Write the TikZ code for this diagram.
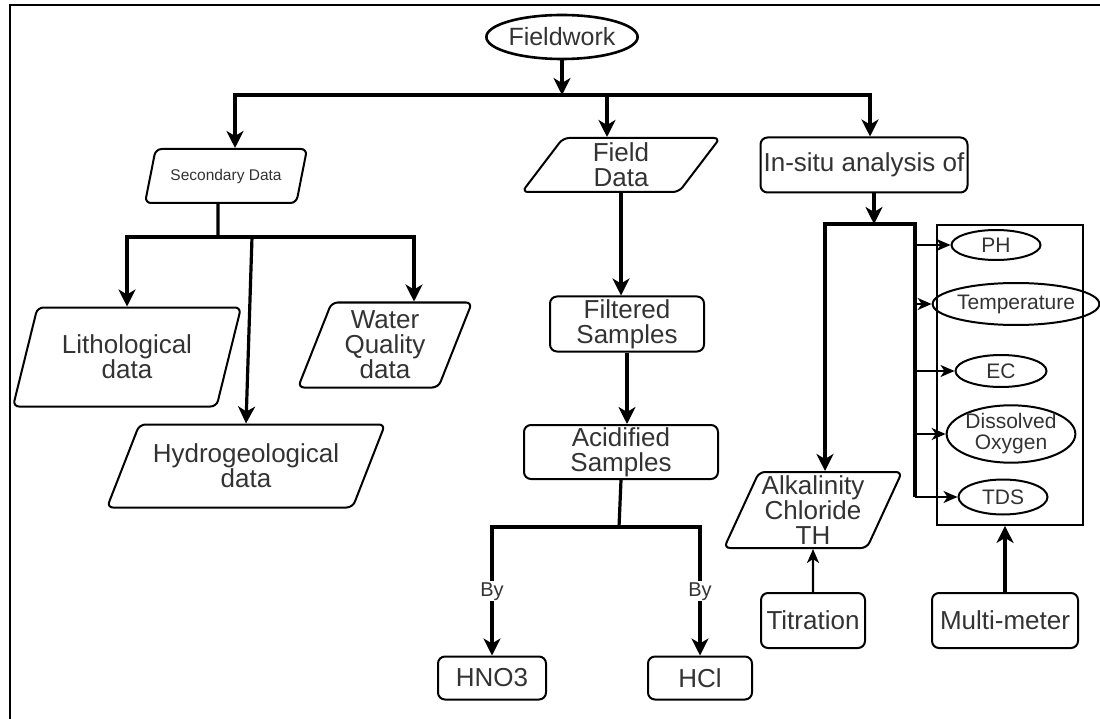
\documentclass[tikz,border=0pt]{standalone}
\usepackage{fontspec}
\setmainfont{Liberation Sans}
\usetikzlibrary{positioning,shapes.geometric,arrows.meta}

\begin{document}
\begin{tikzpicture}[x=1pt,y=-1pt,
    every node/.style={align=center,text=black!80,font=\fontsize{26}{25}\selectfont},
    box/.style={draw=black,rounded corners=7pt,line width=2pt,inner sep=0pt},
    data/.style={draw=black,trapezium,trapezium left angle=#1,trapezium right angle=180-#1,
        trapezium stretches body,rounded corners=6pt,line width=2pt,inner sep=0pt},
    oval/.style={draw=black,ellipse,line width=2pt,inner sep=0pt,font=\fontsize{21}{21}\selectfont},
    arr/.style={line width=3.2pt,-{Stealth[length=17pt,width=17pt,inset=5pt]}},
    link/.style={line width=3.2pt},
    thinarr/.style={line width=1.8pt,-{Stealth[length=14pt,width=12pt,inset=4pt]}},
    by/.style={fill=white,inner sep=1pt,font=\fontsize{20}{20}\selectfont}]
                \fill[white] (0,0) rectangle (1100,719);
                \useasboundingbox (0,0) rectangle (1100,719);
                \draw[line width=2pt] (10,719) -- (10,5) -- (1100,5);
                % top level
                \node[oval,line width=2.6pt,font=\fontsize{25}{25}\selectfont,minimum width=141pt,minimum height=44pt](1) at (562,37){Fieldwork};
                \node[data=53.5,font=\fontsize{15.5}{16}\selectfont,minimum width=162pt,minimum height=54pt](2) at (226,176){Secondary Data};
                \node[data=47,minimum width=198pt,minimum height=54pt](3) at (621,165){Field\\Data};
                \node[box,minimum width=207pt,minimum height=55pt](4) at (864,165){In-situ analysis of};
                % secondary data
                \node[data=61,minimum width=228pt,minimum height=99pt](5) at (127,357){Lithological\\data};
                \node[data=53.7,minimum width=278pt,minimum height=83pt](6) at (246,466){Hydrogeological\\data};
                \node[data=63.7,minimum width=174pt,minimum height=85pt](7) at (385,345){Water\\Quality\\data};
                % field data
                \node[box,minimum width=154pt,minimum height=55pt](8) at (627,324){Filtered\\Samples};
                \node[box,minimum width=194pt,minimum height=54pt](9) at (621,452){Acidified\\Samples};
                \node[box,minimum width=108pt,minimum height=43pt](10) at (492,678){HNO3};
                \node[box,minimum width=104pt,minimum height=43pt](11)[right=100pt of 10]{HCl};
                % in-situ analysis
                \node[data=63,minimum width=178pt,minimum height=76pt](12) at (813,510){Alkalinity\\Chloride\\TH};
                \node[box,minimum width=104pt,minimum height=55pt](13)[below=43pt of 12]{Titration};
                \node[box,minimum width=146pt,minimum height=55pt](14)[right=65pt of 13]{Multi-meter};
                \node[draw=black,line width=1.8pt,minimum width=146pt,minimum height=300pt](15) at (1010,375){};
                \node[oval,minimum width=89pt,minimum height=30pt](16) at (996,245){PH};
                \node[oval,minimum width=132pt,minimum height=42pt](17) at (1016,304){Temperature};
                \node[oval,minimum width=91pt,minimum height=32pt](18) at (1001,371){EC};
                \node[oval,minimum width=119pt,minimum height=52pt](19) at (1011,434){Dissolved\\Oxygen};
                \node[oval,minimum width=89pt,minimum height=35pt](20) at (1003,497){TDS};
                % connectors
                \coordinate (b1) at (562,95);
                \draw[arr] (1) -- (b1);
                \draw[arr] (b1) -| ([xshift=9pt]2.north);
                \draw[arr] (b1) -| ([xshift=-14pt]3.north);
                \draw[arr] (b1) -| ([xshift=6pt]4.north);
                \coordinate (b2) at (218,237);
                \draw[link] ([xshift=-8pt]2.south) -- (b2);
                \draw[arr] (b2) -| (5.north);
                \draw[arr] (b2) -| ([xshift=29pt]7.north);
                \draw[arr] ([xshift=34pt]b2) -- (6.north);
                \draw[arr] (3.south) -- (3.south |- 8.north);
                \draw[arr] (8.south) -- (8.south |- 9.north);
                \coordinate (b3) at (619,527);
                \draw[link] (9.south) -- (b3);
                \draw[arr] (b3) -| node[by,pos=0.75]{By} (10.north);
                \draw[arr] (b3) -| node[by,pos=0.75]{By} (11.north);
                \coordinate (b4) at (874,224);
                \coordinate (b5) at (915,224);
                \draw[arr] ([xshift=10pt]4.south) -- (b4);
                \draw[arr] (b4) -| ([xshift=12pt]12.north);
                \draw[link] (b4) -- (b5) -- (b5 |- 20.east);
                \foreach \n in {16,...,20}
                    \draw[thinarr] (b5 |- \n.west) -- (\n.west);
                \draw[thinarr,line width=2.2pt] (13) -- (12);
                \draw[arr] (14.north) -- (14.north |- 15.south);
\end{tikzpicture}
\end{document}
